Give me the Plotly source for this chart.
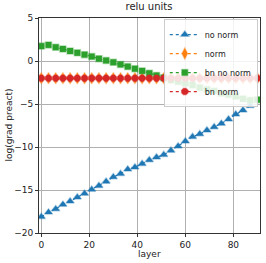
import plotly.graph_objects as go

layers = list(range(0, 91, 3))
layers_no_norm = list(range(0, 88, 3))

no_norm = [-18.1, -17.6, -17.2, -16.7, -16.3, -15.85, -15.4, -14.95, -14.5, -14.0,
           -13.5, -13.1, -12.6, -12.35, -11.95, -11.5, -11.2, -10.9, -10.4, -9.9,
           -9.33, -8.8, -8.5, -8.05, -7.66, -7.28, -6.78, -6.2, -5.73, -5.2]
norm = [-2.0] * 31
bn_no_norm = [1.73, 1.87, 1.6, 1.4, 1.16, 0.95, 0.74, 0.52, 0.27, 0.06,
              -0.15, -0.4, -0.65, -0.9, -1.15, -1.42, -1.68, -1.95, -2.2, -2.4,
              -2.6, -2.8, -3.1, -3.3, -3.5, -3.75, -3.9, -4.1, -4.4, -4.57, -4.5]
bn_norm = [-2.0] * 31

series = [
    ("no norm", layers_no_norm, no_norm, "#1f77b4", "rgba(31,119,180,0.35)", "triangle-up", 7),
    ("norm", layers, norm, "#ff7f0e", "rgba(255,127,14,0.35)", "diamond-tall", 8),
    ("bn no norm", layers, bn_no_norm, "#2ca02c", "rgba(44,160,44,0.35)", "square", 6),
    ("bn norm", layers, bn_norm, "#d62728", "rgba(214,39,40,0.35)", "octagon", 7),
]

fig = go.Figure()
for name, xs, ys, col, edge, sym, sz in series:
    fig.add_trace(go.Scatter(
        x=xs, y=ys, name=name, mode="lines+markers",
        line=dict(color=col, width=1.2, dash="dot"),
        marker=dict(symbol=sym, size=sz, color=col, line=dict(color=edge, width=1.5)),
    ))

font = "DejaVu Sans"
fig.update_layout(
    width=266, height=263,
    margin=dict(l=39, r=6, t=18, b=30, autoexpand=False),
    plot_bgcolor="white", paper_bgcolor="white",
    font=dict(family=font, size=9, color="#222"),
    title=dict(text="relu units", x=0.56, xanchor="center", y=0.99, yanchor="top",
               font=dict(size=10, family=font, color="#222")),
    showlegend=True,
    legend=dict(x=0.99, y=0.995, xanchor="right", yanchor="top",
                bgcolor="rgba(255,255,255,0.85)", bordercolor="#cccccc", borderwidth=1,
                font=dict(size=8, family=font), tracegroupgap=0, itemwidth=30,
                itemsizing="trace"),
    annotations=[
        dict(text="layer", xref="paper", yref="paper", x=0.5, y=-0.098,
             xanchor="center", yanchor="middle", showarrow=False,
             font=dict(size=9, family=font, color="#222")),
        dict(text="log(grad preact)", xref="paper", yref="paper", x=-0.14, y=0.5,
             xanchor="center", yanchor="middle", showarrow=False, textangle=-90,
             font=dict(size=9, family=font, color="#222")),
    ],
)
fig.update_xaxes(range=[-0.96, 91.1], tickvals=[0, 20, 40, 60, 80],
                 showgrid=True, gridcolor="#b0b0b0", gridwidth=1, automargin=False,
                 showline=True, mirror=True, linecolor="#333", linewidth=1,
                 ticks="outside", ticklen=3, tickcolor="#333", zeroline=False)
fig.update_yaxes(range=[-20, 5], tickvals=[5, 0, -5, -10, -15, -20],
                 ticktext=["5", "0", "\u22125", "\u221210", "\u221215", "\u221220"],
                 showgrid=True, gridcolor="#b0b0b0", gridwidth=1, automargin=False,
                 showline=True, mirror=True, linecolor="#333", linewidth=1,
                 ticks="outside", ticklen=3, tickcolor="#333", zeroline=False)

fig.write_html("out.html", config={"displayModeBar": False},
               post_script="document.body.style.margin='0';")
